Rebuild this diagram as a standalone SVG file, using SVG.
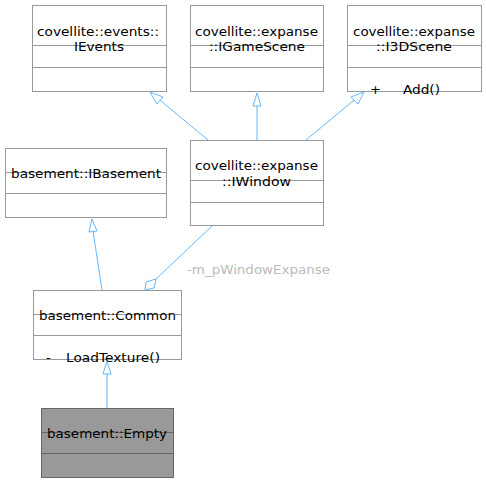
<svg xmlns="http://www.w3.org/2000/svg" width="486" height="483" viewBox="0 0 486 483">
<style>
.box{fill:#fff;stroke:#999;stroke-width:1}
.sep{stroke:#999;stroke-width:1}
.t{font-family:"DejaVu Sans",sans-serif;font-size:13px;fill:#000}
.c{fill:none;stroke:#63b8ff;stroke-width:1}
.h{fill:#fff;stroke:#63b8ff;stroke-width:1}
.lbl{font-family:"DejaVu Sans",sans-serif;font-size:13px;fill:#bbb}
</style>
<rect width="486" height="483" fill="#fff"/>
<g id="connectors">
<line class="c" x1="208" y1="140" x2="155" y2="96"/>
<polygon class="h" points="150,92 163,97 157,104"/>
<line class="c" x1="257" y1="140" x2="257" y2="105"/>
<polygon class="h" points="257,93 261,106 253,106"/>
<line class="c" x1="306" y1="140" x2="359" y2="96"/>
<polygon class="h" points="364,92 358,104 351,97"/>
<line class="c" x1="102" y1="290" x2="93" y2="231"/>
<polygon class="h" points="92,219 97,231 89,232"/>
<line class="c" x1="212" y1="226" x2="156" y2="279"/>
<polygon class="h" points="145,290 146,282 156,279 154,288"/>
<text class="lbl" x="187" y="274" textLength="143" lengthAdjust="spacingAndGlyphs">-m_pWindowExpanse</text>
<line class="c" x1="107" y1="408" x2="107" y2="374"/>
<polygon class="h" points="107,361 111,374 103,374"/>
</g>
<g id="IEvents">
<rect class="box" x="32.5" y="5.5" width="134" height="86"/>
<line class="sep" x1="32.5" y1="45.5" x2="166.5" y2="45.5"/>
<line class="sep" x1="32.5" y1="67.5" x2="166.5" y2="67.5"/>
<text class="t" x="37" y="36" textLength="122" lengthAdjust="spacingAndGlyphs">covellite::events::</text>
<text class="t" x="74" y="51" textLength="50" lengthAdjust="spacingAndGlyphs">IEvents</text>
</g>
<g id="IGameScene">
<rect class="box" x="190.5" y="5.5" width="133" height="86"/>
<line class="sep" x1="190.5" y1="45.5" x2="323.5" y2="45.5"/>
<line class="sep" x1="190.5" y1="67.5" x2="323.5" y2="67.5"/>
<text class="t" x="195" y="36" textLength="123" lengthAdjust="spacingAndGlyphs">covellite::expanse</text>
<text class="t" x="209" y="51" textLength="96" lengthAdjust="spacingAndGlyphs">::IGameScene</text>
</g>
<g id="I3DScene">
<rect class="box" x="347.5" y="5.5" width="134" height="86"/>
<line class="sep" x1="347.5" y1="45.5" x2="481.5" y2="45.5"/>
<line class="sep" x1="347.5" y1="67.5" x2="481.5" y2="67.5"/>
<text class="t" x="353" y="36" textLength="122" lengthAdjust="spacingAndGlyphs">covellite::expanse</text>
<text class="t" x="376" y="51" textLength="76" lengthAdjust="spacingAndGlyphs">::I3DScene</text>
<text class="t" x="370" y="94">+</text>
<text class="t" x="403" y="94" textLength="37" lengthAdjust="spacingAndGlyphs">Add()</text>
</g>
<g id="IBasement">
<rect class="box" x="5.5" y="148.5" width="161" height="69"/>
<line class="sep" x1="5.5" y1="172.5" x2="166.5" y2="172.5"/>
<line class="sep" x1="5.5" y1="193.5" x2="166.5" y2="193.5"/>
<text class="t" x="11" y="178" textLength="150" lengthAdjust="spacingAndGlyphs">basement::IBasement</text>
</g>
<g id="IWindow">
<rect class="box" x="190.5" y="140.5" width="133" height="85"/>
<line class="sep" x1="190.5" y1="180.5" x2="323.5" y2="180.5"/>
<line class="sep" x1="190.5" y1="202.5" x2="323.5" y2="202.5"/>
<text class="t" x="195" y="170" textLength="123" lengthAdjust="spacingAndGlyphs">covellite::expanse</text>
<text class="t" x="222" y="186" textLength="69" lengthAdjust="spacingAndGlyphs">::IWindow</text>
</g>
<g id="Common">
<rect class="box" x="33.5" y="290.5" width="148" height="69"/>
<line class="sep" x1="33.5" y1="314.5" x2="181.5" y2="314.5"/>
<line class="sep" x1="33.5" y1="335.5" x2="181.5" y2="335.5"/>
<text class="t" x="39" y="320" textLength="137" lengthAdjust="spacingAndGlyphs">basement::Common</text>
<text class="t" x="46" y="362">-</text>
<text class="t" x="66" y="362" textLength="94" lengthAdjust="spacingAndGlyphs">LoadTexture()</text>
</g>
<g id="Empty">
<rect x="41.5" y="408.5" width="132" height="69" fill="#999" stroke="#666"/>
<line x1="41.5" y1="432.5" x2="173.5" y2="432.5" stroke="#666"/>
<line x1="41.5" y1="453.5" x2="173.5" y2="453.5" stroke="#666"/>
<text class="t" x="47" y="438" textLength="120" lengthAdjust="spacingAndGlyphs">basement::Empty</text>
</g>
</svg>
